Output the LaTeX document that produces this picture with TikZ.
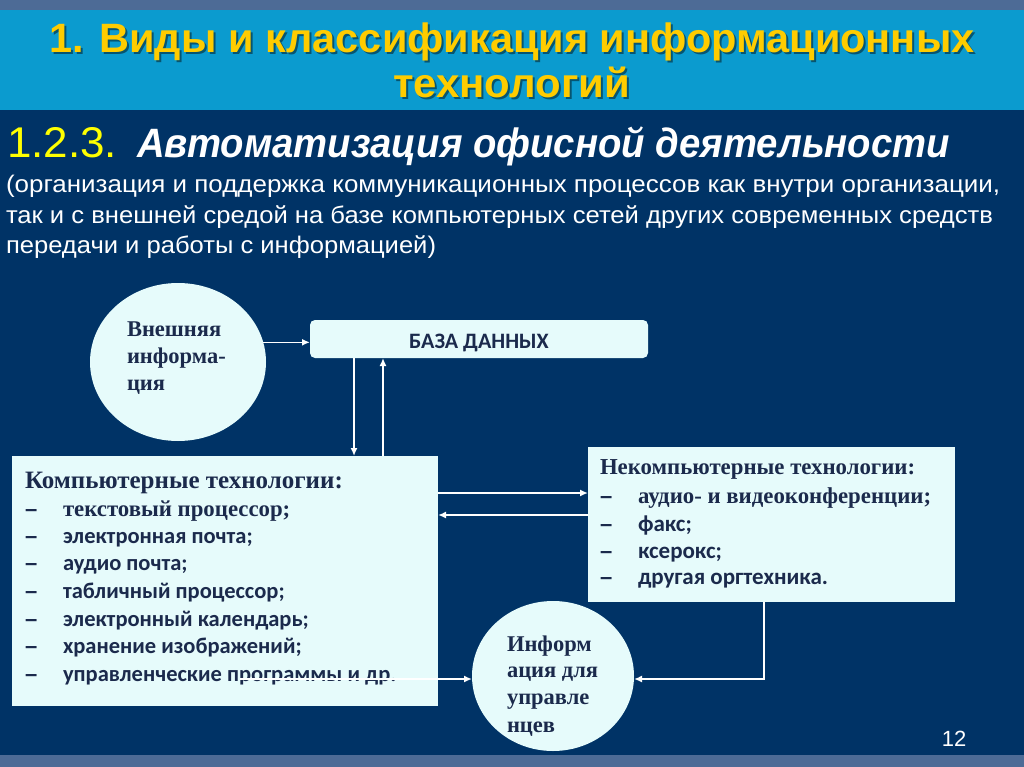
\documentclass[tikz,border=0pt]{standalone}
\usepackage{fontspec}
\usepackage{graphicx}
\setmainfont{Liberation Serif}
\setsansfont{Liberation Sans}
\newfontfamily\carl{Carlito}
\usetikzlibrary{arrows.meta,shapes.geometric}
\definecolor{topstrip}{HTML}{4D6B96}
\definecolor{band}{HTML}{0B9BCF}
\definecolor{navy}{HTML}{003366}
\definecolor{pale}{HTML}{E6FBFB}
\definecolor{ink}{HTML}{1B2A4C}
\definecolor{gold}{HTML}{FFCC00}
\definecolor{yel}{HTML}{FFFF00}
\newcommand\wfit[2]{\resizebox{#1}{\height}{#2}}
\newcommand\fs[1]{\fontsize{#1}{#1}\selectfont}
\begin{document}
\begin{tikzpicture}[x=1pt,y=-1pt,
  every node/.style={inner sep=0pt,outer sep=0pt},
  arr/.style={draw=white,line width=1.6pt,-{Latex[length=8pt,width=7pt]}},
  panel/.style={draw=none,fill=pale,rectangle},
  blob/.style={draw=none,fill=pale,ellipse},
  hdr/.style={anchor=base west,text=ink,font=\rmfamily\bfseries\fs{22.5}},
  itm/.style={anchor=base west,text=ink,font=\carl\bfseries\fs{22.5}},
  itms/.style={anchor=base west,text=ink,font=\rmfamily\bfseries\fs{22.8}},
  dsh/.style={anchor=base west,text=ink,font=\sffamily\bfseries\fs{22}},
  para/.style={anchor=base west,text=white,font=\sffamily\fs{24}}]
\useasboundingbox (0,0) rectangle (1024,767);
% background
\fill[navy] (0,0) rectangle (1024,767);
\fill[topstrip] (0,0) rectangle (1024,10);
\fill[band] (0,10) rectangle (1024,110);
\fill[topstrip] (0,755) rectangle (1024,767);
% title
\node[anchor=base,text=black,opacity=0.45] (tl1s) at (514,55) {\wfit{925pt}{\sffamily\bfseries\fs{41}1. Виды и классификация информационных}};
\node[anchor=base,text=gold] (tl1) at (512,53) {\wfit{925pt}{\sffamily\bfseries\fs{41}1. Виды и классификация информационных}};
\node[anchor=base,text=black,opacity=0.45] (tl2s) at (513.5,100) {\wfit{237pt}{\sffamily\bfseries\fs{41}технологий}};
\node[anchor=base,text=gold] (tl2) at (511.5,98) {\wfit{237pt}{\sffamily\bfseries\fs{41}технологий}};
% subtitle
\node[anchor=base west,text=yel] (num) at (7,158) {\wfit{110pt}{\sffamily\fs{43}1.2.3.}};
\node[anchor=base west,text=white] (sub) at (137,158) {\wfit{813pt}{\sffamily\bfseries\itshape\fs{41}Автоматизация офисной деятельности}};
\node[para] (p1) at (6,193) {\wfit{994pt}{(организация и поддержка коммуникационных процессов как внутри организации,}};
\node[para] (p2) at (6,223) {\wfit{987pt}{так и с внешней средой на базе компьютерных сетей других современных средств}};
\node[para] (p3) at (6,253) {\wfit{430pt}{передачи и работы с информацией)}};
% shapes
\node[blob,minimum width=176pt,minimum height=158pt] (ext) at (178,362) {};
\node[panel,rounded corners=5pt,minimum width=338pt,minimum height=38pt] (db) at (479,339) {};
\node[panel,minimum width=426pt,minimum height=250pt] (comp) at (225,581) {};
\node[panel,minimum width=367pt,minimum height=155pt] (nonc) at (771.5,524.5) {};
\node[blob,minimum width=162pt,minimum height=150pt] (mgr) at (553,676) {};
% texts in shapes
\node[hdr] (e1) at (127,336) {Внешняя};
\node[hdr] (e2) at (127,363) {информа-};
\node[hdr] (e3) at (127,390) {ция};
\node[anchor=base,text=ink,font=\carl\bfseries\fs{22}] (dbt) at (479,348) {БАЗА ДАННЫХ};
\node[hdr,font=\rmfamily\bfseries\fs{25}] (ch) at (25,488) {Компьютерные технологии:};
\node[dsh] (cd1) at (25,516) {–};
\node[itms] (ci1) at (63,516) {текстовый процессор;};
\foreach \y/\t [count=\i from 2] in {543/{электронная почта;},570/{аудио почта;},598/{табличный процессор;},626/{электронный календарь;},653/{хранение изображений;},681/{управленческие программы и др.}} {
  \node[dsh] (cd\i) at (25,\y) {–};
  \node[itm] (ci\i) at (63,\y) {\t};
}
\node[hdr,font=\rmfamily\bfseries\fs{22.8}] (nh) at (600,474) {Некомпьютерные технологии:};
\node[dsh] (nd1) at (600,503) {–};
\node[itms] (ni1) at (638,503) {аудио- и видеоконференции;};
\foreach \y/\t [count=\i from 2] in {531/{факс;},558/{ксерокс;},584/{другая оргтехника.}} {
  \node[dsh] (nd\i) at (600,\y) {–};
  \node[itm,font=\carl\bfseries\fs{23}] (ni\i) at (638,\y) {\t};
}
\node[hdr] (m1) at (507,651) {Информ};
\node[hdr] (m2) at (507,677) {ация для};
\node[hdr] (m3) at (507,704) {управле};
\node[hdr] (m4) at (507,732) {нцев};
% connectors
\coordinate (xa) at (354,0);
\coordinate (xb) at (383,0);
\coordinate (ya) at (0,493);
\coordinate (yb) at (0,515);
\coordinate (cs) at (240,679);
\coordinate (xr) at (764,0);
\coordinate (yr) at (0,679);
\draw[arr] (ext.13) -- (ext.13 -| db.west);
\draw[arr] (db.south -| xa) -- (comp.north -| xa);
\draw[arr] (comp.north -| xb) -- (db.south -| xb);
\draw[arr] (comp.east |- ya) -- (nonc.west |- ya);
\draw[arr] (nonc.west |- yb) -- (comp.east |- yb);
\draw[arr] (cs) -- (cs -| mgr.west);
\draw[arr] (nonc.south -| xr) -- (xr |- yr) -- (yr -| mgr.east);
\node[anchor=base,text=white,font=\sffamily\fs{22}] (pg) at (954,746) {12};
\end{tikzpicture}
\end{document}
